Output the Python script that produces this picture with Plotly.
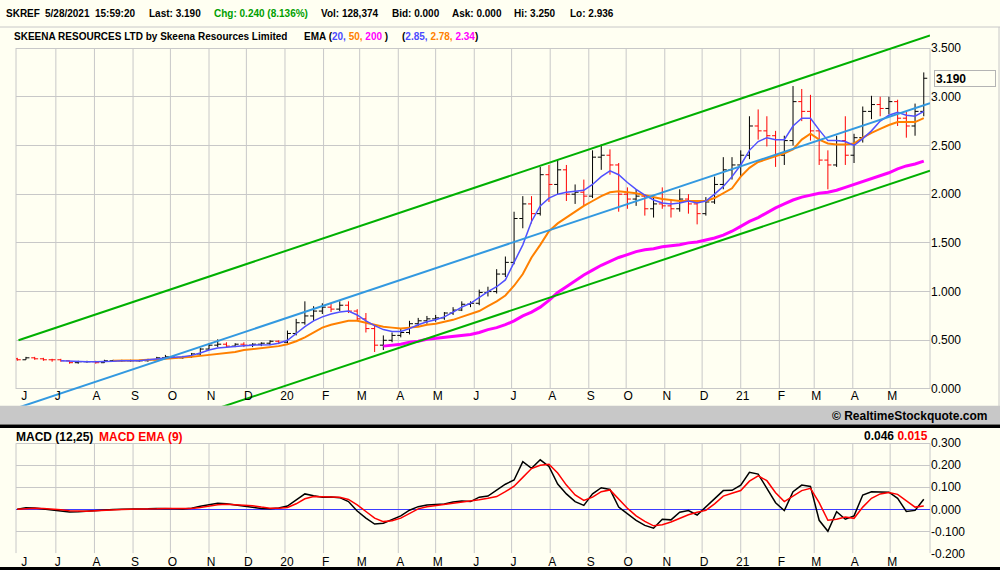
import pandas as pd
import plotly.graph_objects as go

W, H = 1000, 570
CREAM = "#FFFFF2"
GRID = "#C8C8C8"
FONT = "Liberation Sans, Arial, sans-serif"

# weekly bars (week ending Friday)
week_end = pd.date_range("2019-05-31", "2021-05-28", freq="W-FRI")

bar_open = [
    .31, .30, .32, .31, .30, .30, .29, .27, .28, .28,
    .27, .29, .29, .29, .29, .29, .30, .32, .33, .32,
    .33, .36, .41, .45, .46, .44, .46, .45, .46, .47,
    .49, .48, .57, .68, .75, .80, .84, .82, .86, .80,
    .72, .62, .45, .50, .55, .58, .67, .70, .72, .73,
    .78, .81, .87, .88, .99, 1.00, 1.18, 1.30, 1.75, 1.90,
    1.80, 2.20, 2.10, 2.25, 2.00, 2.02, 1.98, 2.38, 2.40, 2.30,
    2.00, 1.95, 1.98, 1.85, 1.90, 1.88, 1.85, 1.95, 1.90, 1.80,
    1.92, 2.10, 2.25, 2.30, 2.40, 2.70, 2.65, 2.60, 2.40, 2.55,
    2.95, 2.85, 2.65, 2.35, 2.30, 2.55, 2.40, 2.58, 2.85, 2.92,
    2.88, 2.95, 2.78, 2.70, 2.85,
]
bar_high = [
    .32, .33, .33, .32, .31, .31, .29, .29, .29, .29,
    .30, .30, .30, .30, .30, .31, .33, .35, .34, .34,
    .37, .42, .47, .51, .48, .47, .48, .47, .48, .50,
    .50, .60, .72, .90, .85, .88, .88, .90, .90, .82,
    .78, .66, .55, .58, .62, .70, .73, .75, .76, .79,
    .84, .90, .90, 1.02, 1.05, 1.23, 1.36, 1.82, 1.98, 1.98,
    2.28, 2.30, 2.36, 2.30, 2.10, 2.15, 2.45, 2.51, 2.46, 2.32,
    2.07, 2.05, 2.00, 1.98, 2.07, 1.95, 2.05, 2.00, 1.93, 1.97,
    2.18, 2.38, 2.38, 2.45, 2.80, 2.87, 2.80, 2.65, 2.60, 3.11,
    3.08, 3.02, 2.66, 2.45, 2.60, 2.80, 2.62, 2.90, 3.01, 3.00,
    3.00, 2.97, 2.85, 2.93, 3.25,
]
bar_low = [
    .29, .30, .30, .29, .28, .28, .26, .26, .27, .26,
    .27, .28, .28, .28, .28, .28, .30, .31, .31, .31,
    .32, .35, .40, .43, .43, .43, .43, .43, .44, .45,
    .46, .47, .55, .66, .70, .77, .79, .80, .78, .70,
    .58, .38, .40, .48, .53, .56, .64, .67, .69, .71,
    .76, .80, .84, .86, .95, .98, 1.15, 1.28, 1.65, 1.70,
    1.78, 1.92, 2.00, 1.93, 1.90, 1.88, 1.96, 2.25, 2.20, 1.82,
    1.85, 1.88, 1.78, 1.76, 1.85, 1.76, 1.82, 1.80, 1.69, 1.78,
    1.90, 2.05, 2.15, 2.18, 2.36, 2.56, 2.49, 2.28, 2.30, 2.50,
    2.75, 2.55, 2.30, 2.05, 2.28, 2.30, 2.32, 2.53, 2.77, 2.80,
    2.82, 2.70, 2.58, 2.60, 2.80,
]
bar_close = [
    .30, .32, .31, .30, .30, .29, .27, .28, .28, .27,
    .29, .29, .29, .29, .29, .30, .32, .33, .32, .33,
    .36, .41, .45, .46, .44, .46, .45, .46, .47, .49,
    .48, .57, .68, .75, .80, .84, .82, .86, .80, .72,
    .62, .45, .50, .55, .58, .67, .70, .72, .73, .78,
    .81, .87, .88, .99, 1.00, 1.18, 1.30, 1.75, 1.90, 1.80,
    2.20, 2.10, 2.25, 2.00, 2.02, 1.98, 2.38, 2.40, 2.30, 2.00,
    1.95, 1.98, 1.85, 1.90, 1.88, 1.85, 1.95, 1.90, 1.80, 1.92,
    2.10, 2.25, 2.30, 2.40, 2.70, 2.65, 2.60, 2.40, 2.55, 2.95,
    2.85, 2.65, 2.35, 2.30, 2.55, 2.40, 2.58, 2.85, 2.92, 2.88,
    2.95, 2.78, 2.70, 2.85, 3.19,
]

# moving averages (they start once enough history exists)
ema20 = [
    .29, .285, .28, .28, .28,
    .28, .285, .29, .29, .29, .30, .31, .32, .325, .33,
    .345, .37, .40, .42, .43, .44, .445, .45, .45, .455,
    .47, .50, .57, .64, .70, .74, .77, .79, .80, .76,
    .70, .65, .61, .59, .59, .62, .66, .69, .71, .74,
    .79, .84, .88, .94, 1.00, 1.05, 1.12, 1.30, 1.48, 1.72,
    1.88, 1.96, 2.00, 2.02, 2.03, 2.04, 2.10, 2.18, 2.24, 2.20,
    2.12, 2.05, 1.99, 1.94, 1.91, 1.90, 1.91, 1.93, 1.91, 1.93,
    2.00, 2.08, 2.18, 2.30, 2.45, 2.54, 2.58, 2.56, 2.56, 2.70,
    2.78, 2.78, 2.66, 2.55, 2.55, 2.54, 2.50, 2.57, 2.65, 2.75,
    2.81, 2.84, 2.81, 2.80, 2.85,
]
ema50 = [
    .29, .29, .29, .295, .30, .30, .31, .315, .32,
    .33, .34, .35, .36, .37, .38, .40, .41, .42, .43,
    .44, .46, .49, .53, .58, .63, .66, .68, .70, .70,
    .68, .66, .64, .63, .62, .63, .64, .66, .67, .69,
    .71, .74, .77, .80, .85, .90, .96, 1.06, 1.18, 1.35,
    1.48, 1.62, 1.70, 1.76, 1.82, 1.88, 1.93, 1.98, 2.02, 2.03,
    2.02, 2.01, 1.99, 1.97, 1.95, 1.94, 1.93, 1.93, 1.93, 1.93,
    1.96, 2.01, 2.06, 2.18, 2.27, 2.33, 2.36, 2.39, 2.42, 2.46,
    2.56, 2.62, 2.56, 2.52, 2.51, 2.51, 2.52, 2.58, 2.63, 2.67,
    2.71, 2.74, 2.74, 2.74, 2.78,
]
ema200 = [
    .44, .45, .46, .48, .49, .51, .52, .53,
    .54, .55, .56, .58, .61, .63, .66, .70, .75, .79,
    .84, .91, .99, 1.05, 1.11, 1.17, 1.22, 1.27, 1.31, 1.35,
    1.38, 1.41, 1.43, 1.44, 1.46, 1.47, 1.48, 1.50, 1.51, 1.53,
    1.55, 1.58, 1.62, 1.67, 1.72, 1.76, 1.81, 1.86, 1.90, 1.94,
    1.97, 1.99, 2.01, 2.02, 2.04, 2.07, 2.10, 2.13, 2.16, 2.19,
    2.22, 2.26, 2.29, 2.31, 2.34,
]

# hand-drawn trend channel
channel_dates = ["2019-06-01", "2021-06-02"]
channel_upper = [0.50, 3.63]
channel_mid = [-0.19, 2.935]
channel_lower = [-0.88, 2.24]

macd = [
    0.000, 0.007, 0.006, 0.002, -0.001, -0.006, -0.012, -0.011, -0.008, -0.005,
    -0.002, -0.001, 0.000, 0.000, 0.001, 0.002, 0.004, 0.005, 0.003, 0.001,
    0.005, 0.014, 0.022, 0.027, 0.025, 0.020, 0.016, 0.012, 0.004, 0.003,
    0.006, 0.015, 0.044, 0.070, 0.062, 0.055, 0.056, 0.053, 0.035, -0.008,
    -0.040, -0.067, -0.063, -0.048, -0.030, -0.004, 0.012, 0.020, 0.022, 0.024,
    0.033, 0.038, 0.035, 0.055, 0.060, 0.085, 0.114, 0.133, 0.216, 0.186,
    0.225, 0.195, 0.115, 0.070, 0.035, 0.018, 0.070, 0.098, 0.090, 0.010,
    -0.022, -0.050, -0.073, -0.086, -0.045, -0.048, -0.013, -0.006, -0.026, 0.010,
    0.045, 0.085, 0.086, 0.110, 0.168, 0.160, 0.095, 0.030, -0.006, 0.080,
    0.110, 0.104, -0.050, -0.100, -0.011, -0.045, -0.030, 0.065, 0.080, 0.080,
    0.078, 0.050, -0.010, -0.005, 0.046,
]
macd_signal = [
    0.000, 0.003, 0.005, 0.004, 0.002, -0.002, -0.007, -0.009, -0.009, -0.007,
    -0.004, -0.002, -0.001, 0.000, 0.000, 0.001, 0.002, 0.004, 0.004, 0.003,
    0.004, 0.008, 0.014, 0.021, 0.023, 0.021, 0.019, 0.016, 0.010, 0.005,
    0.005, 0.008, 0.025, 0.048, 0.058, 0.057, 0.057, 0.055, 0.045, 0.020,
    -0.010, -0.040, -0.056, -0.052, -0.040, -0.018, 0.002, 0.012, 0.017, 0.021,
    0.027, 0.033, 0.037, 0.043, 0.050, 0.058, 0.080, 0.105, 0.145, 0.185,
    0.200, 0.205, 0.165, 0.110, 0.065, 0.040, 0.055, 0.080, 0.088, 0.045,
    0.005, -0.030, -0.055, -0.075, -0.070, -0.058, -0.040, -0.025, -0.013, -0.005,
    0.025, 0.060, 0.073, 0.085, 0.128, 0.152, 0.130, 0.075, 0.035, 0.060,
    0.085, 0.095, 0.030, -0.050, -0.045, -0.035, -0.041, 0.010, 0.050, 0.070,
    0.076, 0.068, 0.040, 0.010, 0.015,
]

month_starts = pd.date_range("2019-06-01", "2021-05-01", freq="MS").strftime("%Y-%m-%d").tolist()
month_labels = ["J", "J", "A", "S", "O", "N", "D", "20", "F", "M", "A", "M",
                "J", "J", "A", "S", "O", "N", "D", "21", "F", "M", "A", "M"]
# first label sits on the first trading day, just inside the left edge
label_ticks = ["2019-06-04"] + month_starts[1:]
price_ticks = [0.0, 0.5, 1.0, 1.5, 2.0, 2.5, 3.0, 3.5]
macd_ticks = [-0.2, -0.1, 0.0, 0.1, 0.2, 0.3]
x_range = ["2019-05-30", "2021-06-02"]


def px_x(p):
    return p / W


def px_y(p):
    return 1 - p / H


fig = go.Figure()

fig.add_trace(go.Ohlc(
    x=week_end, open=bar_open, high=bar_high, low=bar_low, close=bar_close,
    increasing=dict(line=dict(color="black", width=1)),
    decreasing=dict(line=dict(color="#FF0000", width=1)),
    tickwidth=0.4, hoverinfo="skip", xaxis="x", yaxis="y",
))
fig.add_trace(go.Scatter(x=week_end[42:], y=ema200, mode="lines",
                         line=dict(color="#FF00FF", width=3)))
fig.add_trace(go.Scatter(x=week_end[11:], y=ema50, mode="lines",
                         line=dict(color="#FF8000", width=2)))
fig.add_trace(go.Scatter(x=week_end[5:], y=ema20, mode="lines",
                         line=dict(color="#5050FF", width=1.5)))
for vals, col in [(channel_upper, "#00B000"), (channel_lower, "#00B000"), (channel_mid, "#3399E0")]:
    fig.add_trace(go.Scatter(x=channel_dates, y=vals, mode="lines",
                             line=dict(color=col, width=2)))

fig.add_trace(go.Scatter(x=week_end, y=macd, mode="lines", xaxis="x2", yaxis="y2",
                         line=dict(color="black", width=1.5)))
fig.add_trace(go.Scatter(x=week_end, y=macd_signal, mode="lines", xaxis="x2", yaxis="y2",
                         line=dict(color="#FF0000", width=1.5)))

xcommon = dict(
    type="date", range=x_range, domain=[px_x(16), px_x(930)],
    tickmode="array", tickvals=label_ticks, ticktext=month_labels,
    ticklabelshift=2, ticks="", showgrid=False, zeroline=False,
    showline=False, tickfont=dict(size=12, color="black", family=FONT),
)
ycommon = dict(
    side="right", showgrid=True, gridcolor=GRID, gridwidth=1, showline=False,
    ticks="", tickfont=dict(size=12, color="black", family=FONT), automargin=False,
)

fig.update_layout(
    width=W, height=H,
    margin=dict(l=0, r=0, t=0, b=0),
    paper_bgcolor=CREAM, plot_bgcolor=CREAM,
    showlegend=False,
    font=dict(family=FONT, color="black"),
    # price labels sit inside the panel so the channel lines can run under them
    xaxis=dict(xcommon, anchor="y", ticklabelposition="inside", rangeslider=dict(visible=False)),
    xaxis2=dict(xcommon, anchor="y2", ticklabelposition="outside"),
    yaxis=dict(ycommon, anchor="x", domain=[px_y(405.7), px_y(28)], range=[-0.1715, 3.706],
               tickvals=price_ticks, ticktext=[f"{v:.3f}" for v in price_ticks], zeroline=False),
    yaxis2=dict(ycommon, anchor="x2", domain=[px_y(553.3), px_y(428)], range=[-0.2, 0.3695],
                tickvals=macd_ticks, ticktext=[f"{v:.3f}" for v in macd_ticks],
                zeroline=True, zerolinecolor="#3C3CFF", zerolinewidth=1),
)

# grid verticals only span the labelled price / macd range
shapes = []
for xa, ya, lo, hi in [("x", "y", 0, 3.5), ("x2", "y2", -0.2, 0.3)]:
    for d in month_starts[1:]:
        shapes.append(dict(type="line", xref=xa, yref=ya, x0=d, x1=d, y0=lo, y1=hi,
                           line=dict(color=GRID, width=1), layer="below"))
    for edge in (0, 1):
        shapes.append(dict(type="line", xref=xa + " domain", yref=ya, x0=edge, x1=edge,
                           y0=lo, y1=hi, line=dict(color=GRID, width=1), layer="below"))

# panel furniture
shapes += [
    dict(type="line", xref="paper", yref="paper", x0=0, x1=1, y0=px_y(27), y1=px_y(27),
         line=dict(color=GRID, width=1)),
    dict(type="line", xref="paper", yref="paper", x0=px_x(999), x1=px_x(999),
         y0=px_y(27), y1=px_y(406), line=dict(color=GRID, width=1)),
    dict(type="rect", xref="paper", yref="paper", x0=0, x1=1, y0=px_y(424.5), y1=px_y(405.7),
         fillcolor="#C8C8C8", line=dict(width=0)),
    dict(type="rect", xref="paper", yref="paper", x0=0, x1=1, y0=px_y(428), y1=px_y(424.5),
         fillcolor="black", line=dict(width=0)),
    dict(type="rect", xref="paper", yref="paper", x0=0, x1=1, y0=0, y1=px_y(567),
         fillcolor="black", line=dict(width=0)),
]
fig.update_layout(shapes=shapes)


def note(text, x, y, size=10, color="black", anchor="left"):
    fig.add_annotation(text=text, x=px_x(x), y=px_y(y), xref="paper", yref="paper",
                       xanchor=anchor, yanchor="middle", showarrow=False,
                       font=dict(size=size, color=color, family=FONT))


header = [
    ("SKREF", 4, "black"), ("5/28/2021", 43, "black"), ("15:59:20", 93, "black"),
    ("Last: 3.190", 147, "black"), ("Chg: 0.240 (8.136%)", 212, "#00A000"),
    ("Vol: 128,374", 319, "black"), ("Bid: 0.000", 390, "black"),
    ("Ask: 0.000", 450, "black"), ("Hi: 3.250", 512, "black"), ("Lo: 2.936", 568, "black"),
]
for txt, x, col in header:
    note(f"<b>{txt}</b>", x, 13.5, color=col)

note("<b>SKEENA RESOURCES LTD by Skeena Resources Limited</b>", 12, 37)
note("<b>EMA (<span style='color:#4B4BFF'>20,</span> <span style='color:#FF8000'>50,</span> "
     "<span style='color:#FF00FF'>200</span> )</b>", 302, 37)
note("<b>(<span style='color:#4B4BFF'>2.85,</span> <span style='color:#FF8000'>2.78,</span> "
     "<span style='color:#FF00FF'>2.34</span>)</b>", 400, 37)

note("<b>© RealtimeStockquote.com</b>", 990, 416, size=12, anchor="right")
note("<b>MACD (12,25)</b>", 14, 436.5, size=12)
note("<b>MACD EMA (9)</b>", 97, 436.5, size=12, color="#FF0000")
note("<b>0.046 <span style='color:#FF0000'>0.015</span></b>", 930, 435.5, size=12, anchor="right")

fig.add_annotation(text="<b>3.190</b>", x=px_x(934), y=bar_close[-1], xref="paper", yref="y",
                   xanchor="left", yanchor="middle", showarrow=False, align="left",
                   width=58, height=13, bgcolor=CREAM, bordercolor="#B4B4B4", borderwidth=1,
                   borderpad=1, font=dict(size=12, color="black", family=FONT))

fig.write_html("out.html", config={"displayModeBar": False},
               post_script="document.body.style.margin='0';document.body.style.overflow='hidden';")
